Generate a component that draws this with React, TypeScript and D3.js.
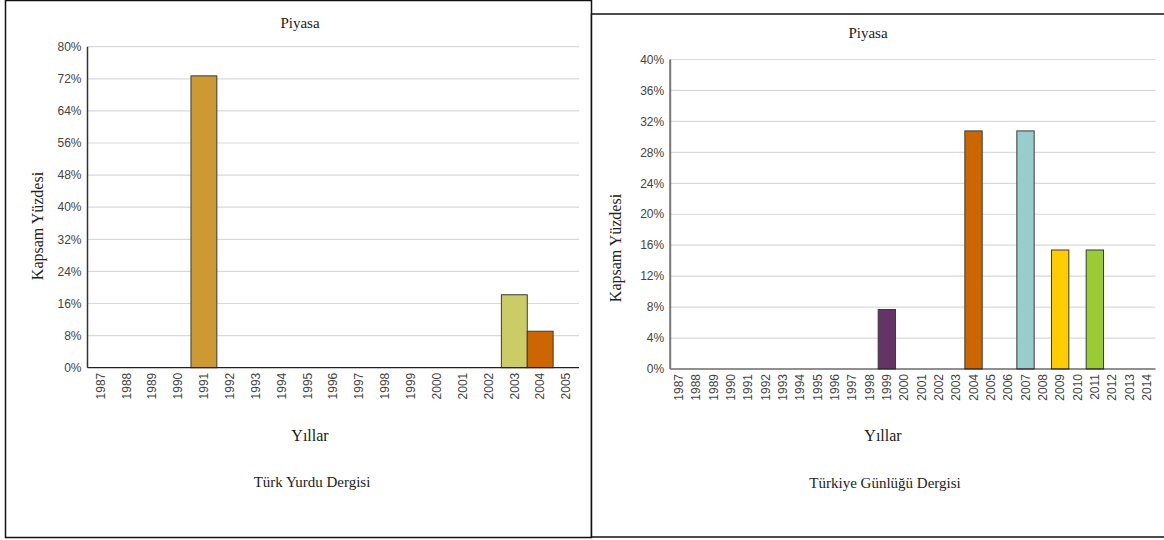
import React from "react";
import * as d3 from "d3";

const leftYears = ["1987","1988","1989","1990","1991","1992","1993","1994","1995","1996","1997","1998","1999","2000","2001","2002","2003","2004","2005"];
const leftValues = [0,0,0,0,72.73,0,0,0,0,0,0,0,0,0,0,0,18.18,9.09,0];
const leftColors = ["#cc9933","#cc9933","#cc9933","#cc9933","#cc9933","#cc9933","#cc9933","#cc9933","#cc9933","#cc9933","#cc9933","#cc9933","#cc9933","#cc9933","#cc9933","#cc9933","#cccc66","#cc6600","#cc9933"];
const leftTicks = [0,8,16,24,32,40,48,56,64,72,80];

const rightYears = ["1987","1988","1989","1990","1991","1992","1993","1994","1995","1996","1997","1998","1999","2000","2001","2002","2003","2004","2005","2006","2007","2008","2009","2010","2011","2012","2013","2014"];
const rightValues = [0,0,0,0,0,0,0,0,0,0,0,0,7.69,0,0,0,0,30.77,0,0,30.77,0,15.38,0,15.38,0,0,0];
const rightColors = ["#663366","#663366","#663366","#663366","#663366","#663366","#663366","#663366","#663366","#663366","#663366","#663366","#663366","#663366","#663366","#663366","#663366","#cc6600","#cc6600","#cc6600","#99cccc","#99cccc","#ffcc00","#ffcc00","#99cc33","#99cc33","#99cc33","#99cc33"];
const rightTicks = [0,4,8,12,16,20,24,28,32,36,40];

const titleText = "Piyasa";
const yLabelText = "Kapsam Yüzdesi";
const xLabelText = "Yıllar";
const leftCaption = "Türk Yurdu Dergisi";
const rightCaption = "Türkiye Günlüğü Dergisi";

const SERIF = "Liberation Serif, Tinos, DejaVu Serif, serif";
const SANS = "Liberation Sans, Arimo, DejaVu Sans, sans-serif";

type PanelProps = {
  years: string[];
  values: number[];
  colors: string[];
  ticks: number[];
  x0: number; x1: number; yTop: number; yBottom: number;
  axisColor: string; axisWidth: number;
  title: [number, number];
  yLabel: [number, number];
  xLabel: [number, number];
  caption: [number, number];
  captionText: string;
};

function Panel(p: PanelProps) {
  const x = d3.scaleBand<string>().domain(p.years).range([p.x0, p.x1]).padding(0);
  const yMax = p.ticks[p.ticks.length - 1];
  const y = d3.scaleLinear().domain([0, yMax]).range([p.yBottom, p.yTop]);
  const bw = x.bandwidth();
  const sans = { fontFamily: SANS, fontSize: "12px" };
  const serif = (s: number) => ({ fontFamily: SERIF, fontSize: s + "px" });
  return (
    <g>
      {p.ticks.map((t) => (
        <g key={"t" + t}>
          {t > 0 && (
            <line x1={p.x0} x2={p.x1} y1={y(t)} y2={y(t)} stroke="#d9d9d9" strokeWidth={1.2} />
          )}
          <text x={p.x0 - 6} y={y(t)} dy="0.35em" textAnchor="end" style={sans} fill="#444">
            {t + "%"}
          </text>
        </g>
      ))}
      {p.years.map((yr, i) =>
        p.values[i] > 0 ? (
          <rect
            key={"b" + yr}
            x={x(yr)!}
            y={y(p.values[i])}
            width={bw}
            height={y(0) - y(p.values[i])}
            fill={p.colors[i]}
            stroke="#3a3a3a"
            strokeWidth={1}
          />
        ) : null
      )}
      <line x1={p.x0} x2={p.x1} y1={y(0)} y2={y(0)} stroke="#222" strokeWidth={1.2} />
      <line x1={p.x0} x2={p.x0} y1={p.yTop} y2={y(0)} stroke={p.axisColor} strokeWidth={p.axisWidth} />
      {p.years.map((yr) => (
        <text
          key={"l" + yr}
          transform={`translate(${x(yr)! + bw / 2},${y(0) + 5}) rotate(-90)`}
          dy="0.35em"
          textAnchor="end"
          style={sans}
          fill="#444"
        >
          {yr}
        </text>
      ))}
      <text x={p.title[0]} y={p.title[1]} textAnchor="middle" style={serif(15)} fill="#222">
        {titleText}
      </text>
      <text
        transform={`translate(${p.yLabel[0]},${p.yLabel[1]}) rotate(-90)`}
        dy="0.35em"
        textAnchor="middle"
        style={serif(16)}
        fill="#222"
      >
        {yLabelText}
      </text>
      <text x={p.xLabel[0]} y={p.xLabel[1]} textAnchor="middle" style={serif(16)} fill="#222">
        {xLabelText}
      </text>
      <text x={p.caption[0]} y={p.caption[1]} textAnchor="middle" style={serif(15)} fill="#222">
        {p.captionText}
      </text>
    </g>
  );
}

export default function App() {
  return (
    <svg
      width={1164}
      height={540}
      style={{ position: "absolute", left: 0, top: 0, background: "#fff" }}
    >
      <rect x={0} y={0} width={1164} height={540} fill="#fff" />
      <rect x={5.5} y={0.5} width={586} height={537} fill="#fff" stroke="#111" strokeWidth={1.5} />
      <rect x={591.5} y={14} width={574} height={523} fill="#fff" stroke="#111" strokeWidth={1.5} />
      <Panel
        years={leftYears}
        values={leftValues}
        colors={leftColors}
        ticks={leftTicks}
        x0={87.5}
        x1={579}
        yTop={46.7}
        yBottom={367.7}
        axisColor="#333"
        axisWidth={1.5}
        title={[300, 28]}
        yLabel={[37, 226]}
        xLabel={[310, 441]}
        caption={[312, 487]}
        captionText={leftCaption}
      />
      <Panel
        years={rightYears}
        values={rightValues}
        colors={rightColors}
        ticks={rightTicks}
        x0={670.2}
        x1={1155.5}
        yTop={59.5}
        yBottom={369}
        axisColor="#777"
        axisWidth={2}
        title={[868, 38]}
        yLabel={[615, 248]}
        xLabel={[883, 441]}
        caption={[885, 488]}
        captionText={rightCaption}
      />
    </svg>
  );
}
